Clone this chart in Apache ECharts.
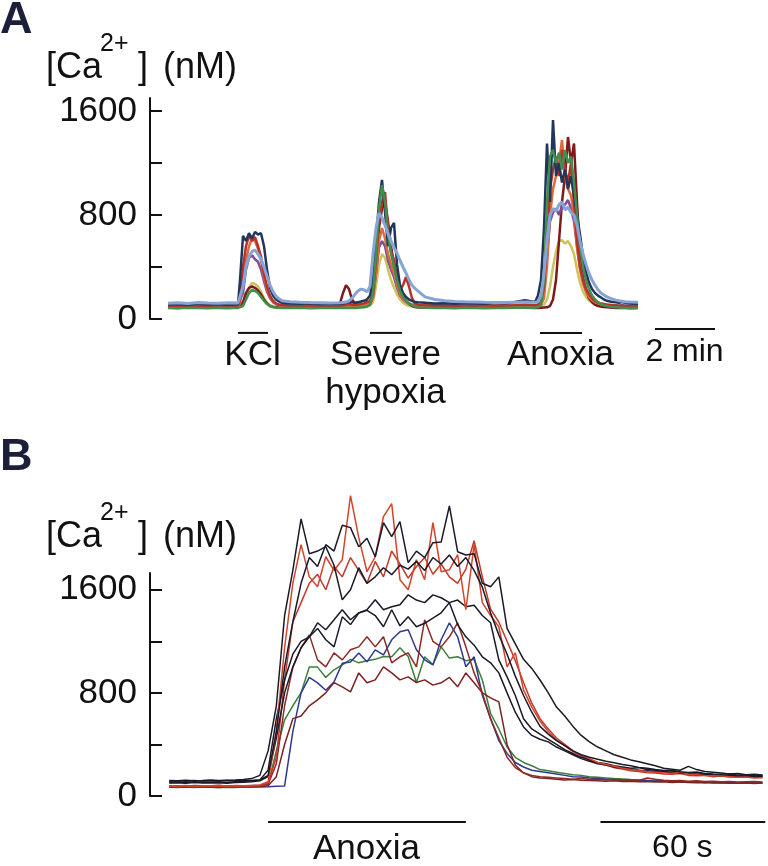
<!DOCTYPE html>
<html><head><meta charset="utf-8">
<script src="https://cdn.jsdelivr.net/npm/echarts@6/dist/echarts.min.js"></script>
<style>html,body{margin:0;padding:0;background:#fff}#c{width:768px;height:866px}</style>
</head><body><div id="c"></div>
<script>
// ---------------- Panel A (time in s) ----------------
const tA = [36,56,76,96,116,136,156,176,
180,186,192,198,204,210,216,222,228,234,240,246,252,258,264,
280,300,320,340,360,
380,386,392,398,404,410,416,422,428,434,440,446,452,458,464,470,476,482,488,494,500,506,512,518,524,530,536,
550,570,590,610,630,650,670,690,710,730,750,770,
776,782,788,794,800,806,812,818,824,830,836,842,848,854,860,866,872,878,884,890,896,902,908,914,920,926,932,938,944,950,
962,976];
const aNavy = [112,115,110,118,112,116,110,114,
300,640,600,660,620,670,650,660,560,380,240,180,150,135,125,
120,118,122,116,120,
118,120,125,130,128,125,130,135,140,150,180,300,600,900,1070,820,560,700,740,420,260,200,170,150,140,130,128,
125,120,122,118,124,120,118,125,122,130,145,130,
180,300,700,1350,900,1530,1100,1200,1050,1150,1000,1100,950,800,650,480,360,280,230,200,180,165,150,140,135,130,128,125,130,125,
120,118];
const aRed = [100,98,102,97,101,99,103,100,
150,400,560,640,600,630,560,480,350,250,180,140,120,110,105,
102,100,105,98,102,
100,105,110,115,110,108,112,115,120,130,140,200,450,750,900,977,700,520,454,300,220,260,323,250,160,120,110,
105,102,100,104,98,102,106,100,103,105,110,105,
110,130,250,600,1000,1150,1250,1100,1300,1150,1050,1200,900,600,400,300,230,190,160,140,125,120,115,110,108,105,104,100,102,100,
98,100];
const aOrange = [95,98,96,99,94,97,98,96,
120,300,450,560,620,600,540,450,330,230,170,130,115,105,100,
98,96,100,97,99,
97,100,102,104,100,100,102,104,106,110,120,160,350,600,700,620,500,420,350,260,190,150,130,120,110,105,100,
98,100,97,102,99,96,100,103,98,100,102,98,
100,110,160,400,800,1000,1100,1200,1377,1100,1000,950,800,550,380,270,210,170,145,130,120,112,108,105,102,100,100,98,100,98,
97,98];
const aPurple = [105,103,106,102,104,107,103,105,
110,200,380,470,490,460,440,380,290,210,160,130,115,110,108,
105,103,106,104,105,
104,106,105,108,106,105,107,108,110,115,125,170,350,550,600,560,450,380,320,240,180,150,130,120,112,108,106,
104,106,103,105,107,104,102,106,104,105,108,106,
110,130,220,500,750,820,850,800,870,880,915,850,750,560,400,300,230,180,150,135,125,118,112,110,108,106,105,104,106,104,
103,105];
const aGreen = [85,82,86,84,83,87,84,85,
88,100,150,200,223,215,200,170,140,115,100,92,88,86,85,
84,86,83,85,84,
85,86,84,87,85,84,86,88,90,95,110,200,500,850,1030,900,650,500,400,300,220,170,140,120,105,95,90,
86,84,85,83,86,84,82,85,84,86,88,86,
90,110,300,900,1250,1300,1200,1280,1150,1300,1200,1250,1050,800,560,400,300,230,180,150,130,115,105,100,95,92,90,88,87,86,
85,84];
const aYellow = [92,95,93,94,96,92,95,93,
95,110,170,240,277,270,250,210,160,125,105,98,95,94,93,
94,92,95,93,94,
93,94,92,95,94,93,95,96,97,100,105,130,250,420,500,470,380,300,240,190,150,125,110,102,98,96,95,
94,93,95,92,94,96,93,95,94,93,95,94,
95,98,110,150,250,400,520,600,607,580,600,560,500,380,280,210,170,140,125,115,108,104,100,98,97,96,95,95,94,95,
94,95];
const aDarkRed = [88,85,90,86,89,87,85,88,
90,130,200,240,250,240,220,190,150,120,100,92,90,88,87,
86,88,90,87,95,
120,200,260,230,150,120,130,115,105,100,110,180,400,700,850,900,750,560,420,320,240,180,140,115,100,92,88,
87,86,90,88,92,88,86,95,90,88,86,85,
85,86,88,90,100,150,300,600,900,1100,1400,1200,1350,900,500,320,220,160,130,110,100,95,92,90,88,86,85,84,85,84,
83,85];
const aLightBlue = [122,125,120,126,123,121,125,124,
130,250,400,480,520,530,500,460,400,330,260,210,175,155,140,
132,128,126,125,124,
125,127,130,140,160,190,215,230,225,210,250,500,700,815,780,720,660,600,550,507,450,400,354,300,260,235,215,
170,150,140,135,132,130,128,127,126,128,130,128,
135,180,350,600,800,850,830,880,900,840,860,820,800,720,600,500,420,350,300,260,225,200,185,170,160,152,145,140,136,132,
130,128];
// stimulus periods in panel A (s)
const stimA = [
  {name:'KCl', t0:176, t1:236},
  {name:'Severe\nhypoxia', t0:440, t1:504},
  {name:'Anoxia', t0:780, t1:864}
];
const scaleA = {name:'2 min', t0:1010, t1:1130};

// ---------------- Panel B (time in s) ----------------
const tB = [7,10,13,16,19,22,25,28,31,34,37,40,43,46,49,52,55,58,61,64,67,70,73,76,79,82,85,88,91,94,97,100,103,106,109,112,115,118,121,124,127,130,133,136,139,142,145,148,151,154,157,160,163,166,169,172,175,178,181,184,187,190,193,196,199,202,205,208,211,214,217,220,223];
const bBlk1 = [120,118,122,119,121,124,120,123,125,128,135,160,
350,700,1400,1750,2150,1880,1900,1934,1790,1522,
1600,1771,1650,1700,1771,1717,1790,1760,1820,1750,
1850,1800,1870,1780,1850,1750,1620,1420,1250,1100,
930,780,650,540,480,430,390,350,320,300,
285,270,258,245,235,222,215,205,198,200,
188,182,186,175,170,168,172,162,165,158,160];
const bBlk2 = [115,118,114,120,117,119,116,121,118,122,120,125,
160,500,1000,1350,1650,1850,1780,1950,1900,2100,
2082,1934,2000,1856,2120,2012,2128,1810,1900,1850,
1965,1970,2250,1895,1870,1880,1650,1623,1700,1300,
1180,1060,990,900,800,690,620,540,470,420,
380,350,320,300,280,265,250,235,215,208,
200,230,205,190,185,178,170,175,165,168,163];
const bBlk3 = [105,108,104,110,107,106,109,105,110,112,118,125,
200,600,900,1100,1200,1235,1344,1290,1367,1445,
1367,1421,1445,1522,1445,1468,1483,1561,1520,1500,
1560,1538,1500,1520,1468,1480,1400,1344,1056,924,
780,600,520,480,440,400,360,330,300,280,
260,250,235,225,215,220,205,200,190,195,
180,175,170,172,165,160,162,155,158,150,155];
const bBlk4 = [100,102,98,104,101,100,103,99,104,106,110,118,
150,450,800,1000,1150,1235,1300,1212,1157,1390,
1330,1420,1440,1400,1313,1445,1320,1390,1313,1340,
1380,1421,1500,1330,1235,1170,1080,1033,955,800,
650,536,470,440,420,380,350,320,290,270,
250,240,225,215,210,200,195,190,185,182,
178,175,165,168,160,158,155,152,150,148,150];
const bRed1 = [80,78,82,76,80,79,83,78,81,80,82,85,
110,500,1150,1650,1950,1700,1623,1856,1750,1833,
2330,2004,1740,1856,2167,2268,1678,1600,1833,1678,
2120,1740,1755,1872,1445,1950,1500,1400,1313,1002,
1110,823,690,580,500,435,390,345,315,290,
260,245,230,215,205,200,190,185,180,175,
185,170,165,160,158,155,150,145,148,140,142];
const bRed2 = [75,72,76,74,73,77,75,72,76,74,78,80,
100,300,900,1350,1500,1650,1720,1600,1780,1700,
1850,1750,1650,1820,1700,1900,1800,1690,1780,1850,
1720,1800,1700,1650,1760,1980,1700,1450,1350,1200,
1050,880,720,600,520,450,400,350,310,280,
255,240,220,210,195,190,180,178,170,168,
175,160,158,160,150,155,148,150,145,150,148];
const bBrown1 = [70,72,68,74,71,69,73,70,72,71,74,76,
80,150,400,600,620,700,746,800,880,847,
808,955,878,901,1002,955,901,924,880,901,
860,878,920,847,955,878,800,761,730,400,
240,179,150,140,135,130,125,128,122,120,
118,115,118,112,115,110,112,108,110,105,
108,105,102,104,100,103,98,100,102,98,100];
const bBrown2 = [78,80,76,82,79,77,81,78,80,79,82,84,
90,250,700,1000,1150,1250,1056,1002,1110,1056,
1134,1157,1235,1157,1235,1033,1080,1110,1002,1367,
1200,1157,1235,1344,1157,955,800,600,450,300,
220,180,160,150,145,140,135,130,135,128,
130,125,128,122,125,120,140,130,122,118,
120,115,118,112,115,110,112,108,110,112,108];
const bBlue = [72,70,74,71,69,73,70,72,71,70,72,70,
72,75,78,500,800,920,878,820,885,1030,
1040,1110,1041,1134,1095,1212,1274,1290,1134,1056,
1017,1212,1344,1235,1002,1080,780,600,430,330,
260,225,200,190,180,170,160,150,148,140,
135,130,128,125,122,120,118,115,118,112,
110,108,110,105,108,104,106,102,105,100,102];
const bGreen = [68,66,70,65,69,67,64,68,66,70,72,75,
90,350,590,700,800,1000,1000,920,979,1017,
1060,1033,1050,1060,1082,1080,1150,1082,880,1080,
1020,1157,1070,1080,1050,1060,900,640,520,380,
300,260,235,205,195,185,175,165,160,150,
145,140,135,132,128,125,122,120,118,115,
112,110,108,105,104,102,100,98,100,97,100];
const stimB = [{name:'Anoxia', t0:43, t1:115}];
const scaleB = {name:'60 s', t0:164, t1:224};

const yTicks = [0,400,800,1200,1600];
const yLabels = [0,800,1600];

// ---------------- rendering ----------------
const FONT = '"Liberation Sans", Arial, Helvetica, sans-serif';
const INK = '#111';

function yAxis(gi, max){
  return {type:'value', gridIndex:gi, min:0, max:max, interval:400,
    axisLine:{show:true, lineStyle:{color:INK, width:2}},
    axisTick:{show:true, inside:true, length:12, customValues:yTicks, lineStyle:{color:INK, width:2}},
    axisLabel:{show:true, customValues:yLabels, fontSize:35, color:INK, fontFamily:FONT, margin:13,
      formatter:v => yLabels.indexOf(v) >= 0 ? String(v) : ''},
    splitLine:{show:false}};
}
function trace(gi, t, vals, color, w){
  return {type:'line', xAxisIndex:gi, yAxisIndex:gi, data:t.map((x,i)=>[x, vals[i]]),
    symbol:'none', showSymbol:false, clip:false, silent:true,
    lineStyle:{color:color, width:w}, z:2};
}
function bar(gi, s, lvl){
  return {type:'line', xAxisIndex:gi, yAxisIndex:gi, data:[[s.t0,lvl],[s.t1,lvl]],
    symbol:'none', clip:false, silent:true, lineStyle:{color:INK, width:2}};
}
function label(gi, s, lvl, size){
  return {type:'scatter', xAxisIndex:gi, yAxisIndex:gi, clip:false, silent:true,
    symbolSize:1, itemStyle:{color:'#ffffff', opacity:1},
    data:[{name:s.name, value:[(s.t0+s.t1)/2, lvl]}],
    label:{show:true, formatter:'{b}', position:[0,0], align:'center', verticalAlign:'top',
      fontSize:size, lineHeight:size+3, color:INK, opacity:1, fontFamily:FONT}};
}

const series = [];
[[aYellow,'#cdc45c',2.5],[aDarkRed,'#7e1a1a',2.5],[aPurple,'#7f4f96',2.5],[aOrange,'#dc6a3c',2.5],
 [aRed,'#b8322a',2.5],[aNavy,'#22355a',2.5],[aGreen,'#3f8f4e',2.5],[aLightBlue,'#86a4d4',3]]
  .forEach(([v,c,w]) => series.push(trace(0, tA, v, c, w)));
[[bGreen,'#3c7f3c'],[bBlue,'#2c3a8e'],[bBrown1,'#7b2222'],[bBrown2,'#8c2a25'],[bRed2,'#c0392b'],
 [bBlk4,'#1a1a28'],[bBlk3,'#1a1a28'],[bRed1,'#d2452c'],[bBlk1,'#1a1a28'],[bBlk2,'#1a1a28']]
  .forEach(([v,c]) => series.push(trace(1, tB, v, c, 1.5)));
stimA.forEach(s => { series.push(bar(0, s, -107)); series.push(label(0, s, -138, 35)); });
series.push(bar(0, scaleA, -77)); series.push(label(0, scaleA, -123, 32));
stimB.forEach(s => { series.push(bar(1, s, -202)); series.push(label(1, s, -272, 35)); });
series.push(bar(1, scaleB, -202)); series.push(label(1, scaleB, -272, 32));

function txt(x, y, text, size, bold, color){
  return {type:'text', x:x, y:y, silent:true,
    style:{text:text, font:(bold?'bold ':'')+size+'px '+FONT, fill:color||INK,
      textAlign:'left', textVerticalAlign:'middle'}};
}
function title(dy){
  return [txt(46, 68+dy, '[Ca', 36), txt(100, 44+dy, '2+', 25), txt(138, 68+dy, ']', 36), txt(163, 68+dy, '(nM)', 36)];
}

const option = {
  animation:false,
  backgroundColor:'#fff',
  textStyle:{fontFamily:FONT},
  grid:[{left:150, top:98, width:618, height:221},
        {left:150, top:573, width:618, height:223}],
  xAxis:[{type:'value', gridIndex:0, min:0, max:1236, show:false},
         {type:'value', gridIndex:1, min:0, max:225, show:false}],
  yAxis:[yAxis(0,1700), yAxis(1,1730)],
  series:series,
  graphic:[txt(0, 21, 'A', 45, true, '#1c1f3a'), txt(0, 458, 'B', 45, true, '#1c1f3a')]
    .concat(title(0)).concat(title(469))
};
const chart = echarts.init(document.getElementById('c'));
chart.setOption(option);
</script></body></html>
